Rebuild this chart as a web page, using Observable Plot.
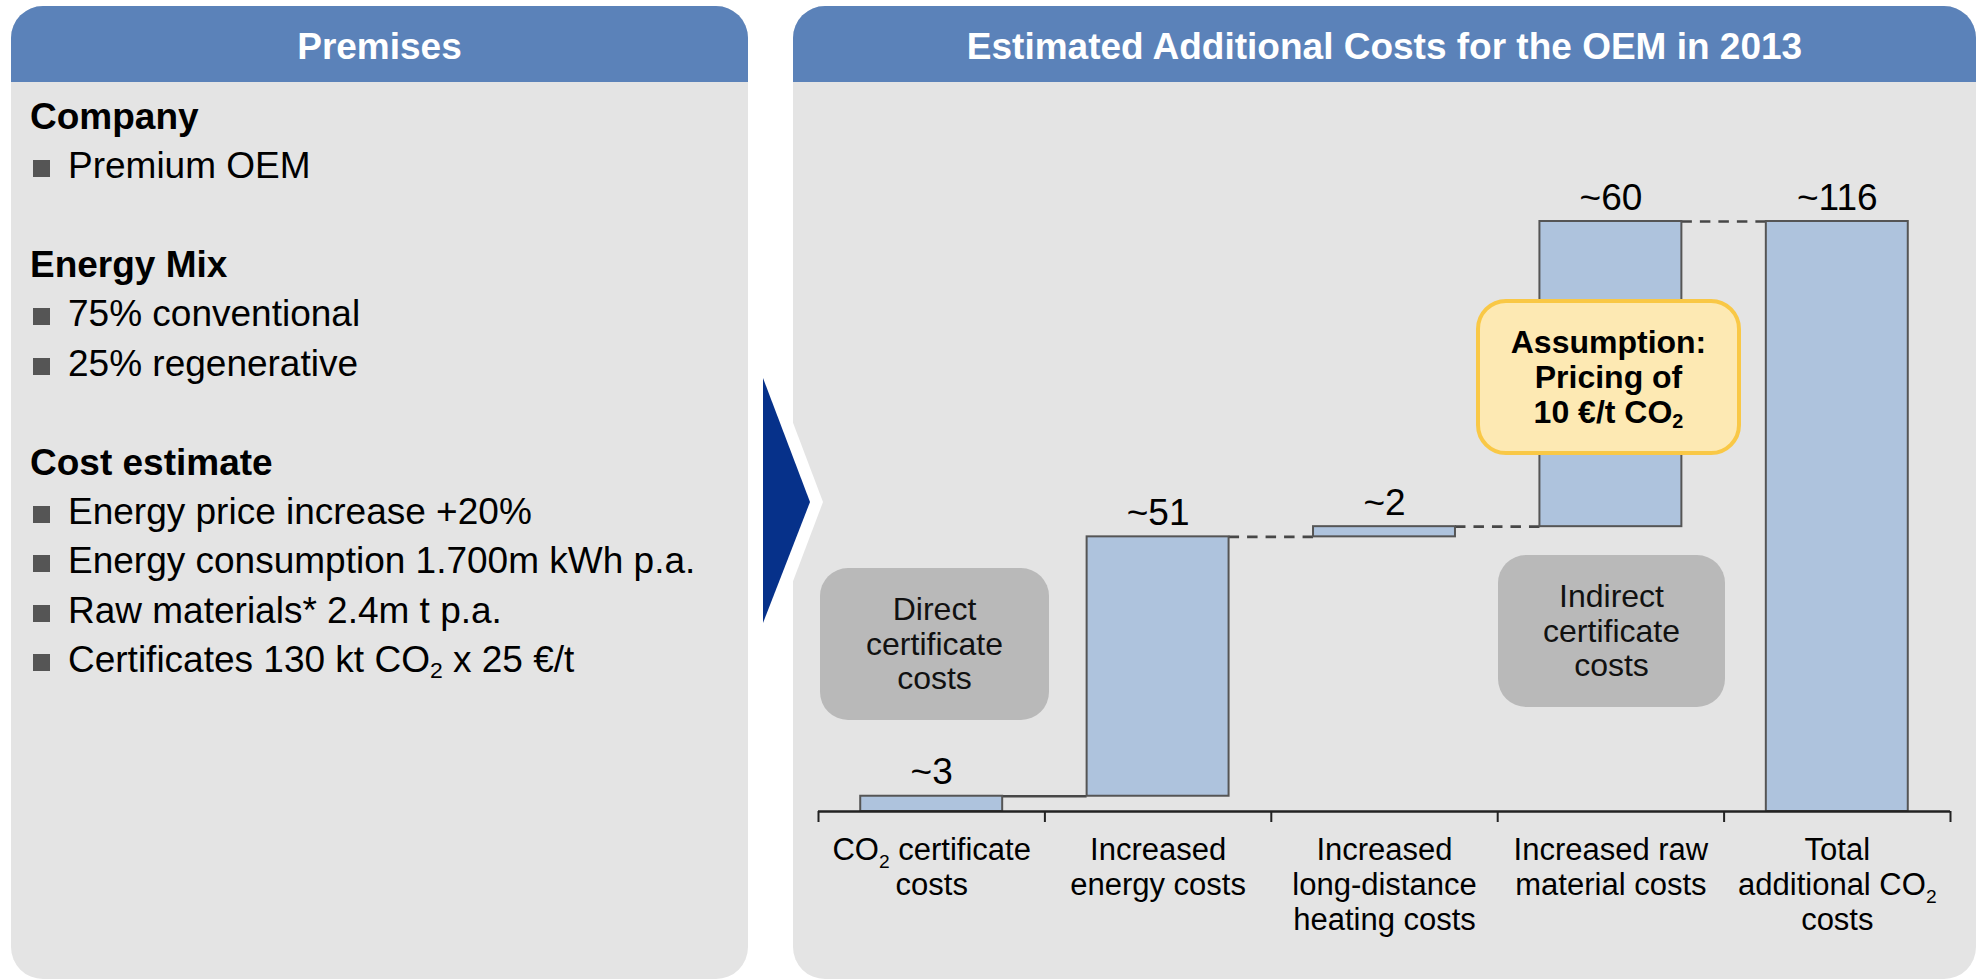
<!DOCTYPE html>
<html>
<head>
<meta charset="utf-8">
<title>Estimated Additional Costs for the OEM in 2013</title>
<script src="https://cdn.jsdelivr.net/npm/d3@7"></script>
<script src="https://cdn.jsdelivr.net/npm/@observablehq/plot@0.6"></script>
<style>
  html, body { margin: 0; padding: 0; background: #fff; }
  body {
    width: 1980px; height: 979px; position: relative; overflow: hidden;
    font-family: "Liberation Sans", Arial, sans-serif; color: #000;
  }
  .panel {
    position: absolute; top: 6px; height: 973px;
    background: #e4e4e4; border-radius: 32px; overflow: hidden;
  }
  #left { left: 11px; width: 737px; }
  #right { left: 793px; width: 1183px; }
  .head {
    height: 76px; background: #5b82b9; color: #fff;
    font-weight: bold; font-size: 37px; line-height: 81px; text-align: center;
    white-space: nowrap;
  }
  .list { padding-top: 9.8px; font-size: 37px; line-height: 49.4px; }
  .list .h { padding-left: 19px; font-weight: bold; }
  .list .b { padding-left: 57px; position: relative; white-space: nowrap; }
  .list .b::before {
    content: ""; position: absolute; left: 22px; top: 19px;
    width: 17px; height: 17px; background: #555;
  }
  .list .gap { height: 49.4px; }
  sub { font-size: 0.62em; vertical-align: -0.27em; line-height: 0; }
  #arrow { position: absolute; left: 0; top: 0; }
  #chart { position: absolute; left: 793px; top: 82px; }
  .note {
    position: absolute; box-sizing: border-box;
    display: flex; align-items: center; justify-content: center; text-align: center;
    font-size: 32px; line-height: 34.5px;
  }
  .grey { background: #b9b9b9; border-radius: 28px; color: #111; }
  .assume {
    background: #fde9b3; border: 4px solid #f9c846; border-radius: 30px;
    font-weight: bold; line-height: 35px;
  }
</style>
</head>
<body>

<div class="panel" id="left">
  <div class="head">Premises</div>
  <div class="list">
    <div class="h">Company</div>
    <div class="b">Premium OEM</div>
    <div class="gap"></div>
    <div class="h">Energy Mix</div>
    <div class="b">75% conventional</div>
    <div class="b">25% regenerative</div>
    <div class="gap"></div>
    <div class="h">Cost estimate</div>
    <div class="b">Energy price increase +20%</div>
    <div class="b">Energy consumption 1.700m kWh p.a.</div>
    <div class="b">Raw materials* 2.4m t p.a.</div>
    <div class="b">Certificates 130 kt CO<sub>2</sub> x 25 €/t</div>
  </div>
</div>

<div class="panel" id="right">
  <div class="head">Estimated Additional Costs for the OEM in 2013</div>
</div>

<!-- chevron between the two panels -->
<svg id="arrow" width="1980" height="979">
  <polygon points="750,309 823,502 750,695" fill="#fff"></polygon>
  <polygon points="763,378 810,502 763,623" fill="#06318a"></polygon>
</svg>

<div id="chart"></div>

<div class="note grey" style="left:820px; top:568px; width:229px; height:152px;"><div>Direct<br>certificate<br>costs</div></div>
<div class="note grey" style="left:1498px; top:555px; width:227px; height:152px;"><div>Indirect<br>certificate<br>costs</div></div>
<div class="note assume" style="left:1476px; top:299px; width:265px; height:156px;"><div>Assumption:<br>Pricing of<br>10 €/t CO<sub>2</sub></div></div>

<script>
// Waterfall components (m €); the last entry is the total bar
const categories = [
  "CO₂ certificate\ncosts",
  "Increased\nenergy costs",
  "Increased\nlong-distance\nheating costs",
  "Increased raw\nmaterial costs",
  "Total\nadditional CO₂\ncosts"
];
const values = [3, 51, 2, 60, 116];
const valueLabels = ["~3", "~51", "~2", "~60", "~116"];
const barKinds = ["step", "step", "step", "step", "total"];

// Running start/end of each floating bar
let running = 0;
const rows = categories.map((category, i) => {
  const isTotal = barKinds[i] === "total";
  const start = isTotal ? 0 : running;
  const end = isTotal ? values[i] : running + values[i];
  if (!isTotal) running = end;
  return {i, category, start, end, label: valueLabels[i]};
});
// connector from the top of each bar to the next one
const links = rows.slice(0, -1).map(d => ({i: d.i, level: d.end}));

const pad = 0.1865; // gap on each side of a bar, as a fraction of its slot
const n = categories.length;
const font = "Liberation Sans, Arial, sans-serif";

const linkOpts = {
  y: "level",
  x1: d => d.i + 1 - pad,
  x2: d => d.i + 1 + pad,
  stroke: "#474747",
  strokeWidth: 2.6
};

const chart = Plot.plot({
  width: 1183,
  height: 897,
  marginLeft: 25,
  marginRight: 26,
  marginTop: 139,
  marginBottom: 168,
  style: {background: "transparent", fontFamily: font, overflow: "visible"},
  x: {type: "linear", domain: [0, n], label: null},
  y: {domain: [0, d3.max(rows, d => d.end)], axis: null},
  marks: [
    Plot.ruleY(links.slice(0, 1), linkOpts),
    Plot.ruleY(links.slice(1), {...linkOpts, strokeDasharray: "10.5,8"}),
    Plot.rectY(rows, {
      x1: d => d.i + pad,
      x2: d => d.i + 1 - pad,
      y1: "start",
      y2: "end",
      fill: "#aec3dd",
      stroke: "#555",
      strokeWidth: 2
    }),
    Plot.text(rows, {
      x: d => d.i + 0.5,
      y: "end",
      text: "label",
      lineAnchor: "bottom",
      dy: -12,
      fontSize: 37,
      fill: "#000"
    }),
    Plot.ruleY([0], {stroke: "#222", strokeWidth: 2.5}),
    Plot.axisX({
      ticks: d3.range(n + 1),
      tickSize: 11,
      tickFormat: () => "",
      stroke: "#222",
      strokeWidth: 2,
      label: null
    }),
    Plot.text(rows, {
      x: d => d.i + 0.5,
      y: () => 0,
      text: "category",
      lineAnchor: "top",
      lineHeight: 35 / 31,
      dy: 24,
      fontSize: 31,
      fill: "#000"
    })
  ]
});

// Render "₂" as a lowered, smaller digit
const SVGNS = "http://www.w3.org/2000/svg";
chart.querySelectorAll("text, tspan").forEach(el => {
  if (el.children.length) return;
  const t = el.textContent;
  if (!t.includes("₂")) return;
  const parts = t.split("₂");
  el.textContent = "";
  parts.forEach((p, k) => {
    if (k > 0) {
      const s = document.createElementNS(SVGNS, "tspan");
      s.setAttribute("font-size", "0.62em");
      s.setAttribute("baseline-shift", "-0.43em");
      s.textContent = "2";
      el.appendChild(s);
    }
    if (p) el.appendChild(document.createTextNode(p));
  });
});

document.getElementById("chart").appendChild(chart);
</script>
</body>
</html>
